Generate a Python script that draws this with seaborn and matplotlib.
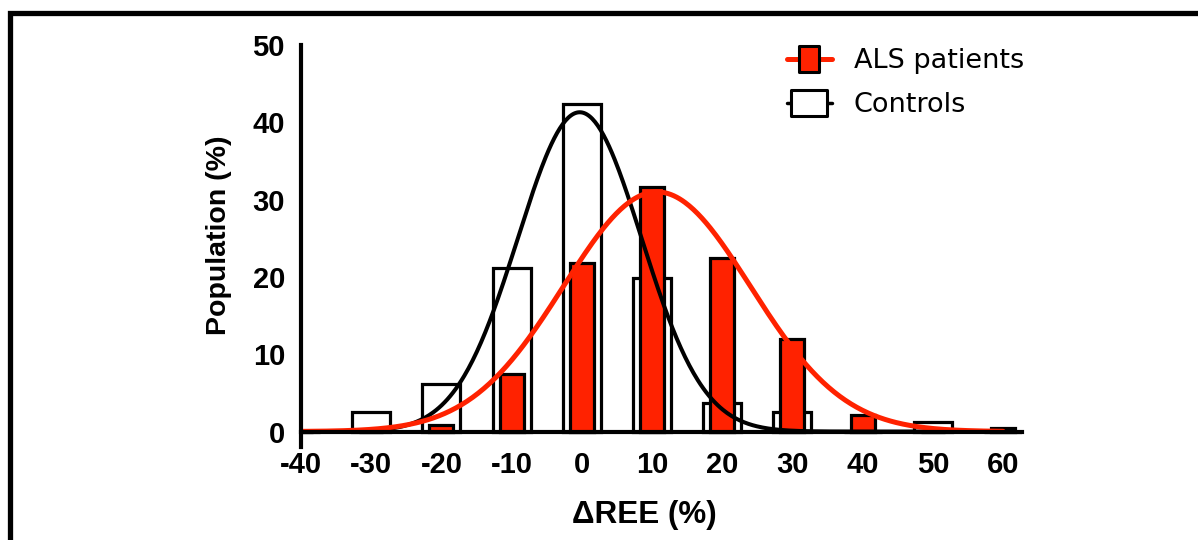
import numpy as np
import seaborn as sns
import matplotlib.pyplot as plt
from matplotlib.lines import Line2D
from matplotlib.patches import Rectangle
from matplotlib.path import Path

# histogram bin centres, delta REE (%)
bins = [-40, -30, -20, -10, 0, 10, 20, 30, 40, 50, 60]
controls = [0, 2.5, 6.2, 21.1, 42.4, 19.9, 3.7, 2.5, 0, 1.2, 0]
als = [0, 0, 0.9, 7.5, 21.8, 31.6, 22.4, 12.0, 2.2, 0, 0.5]

# gaussian fits: (amplitude, mean, sd)
controls_fit = (41.3, -0.3, 8.8)
als_fit = (31.0, 10.7, 13.3)

xticks = [-40, -30, -20, -10, 0, 10, 20, 30, 40, 50, 60]
yticks = [0, 10, 20, 30, 40, 50]

RED = '#ff2200'
W, H = 1198, 540


def gauss(x, a, mu, sd):
    return a * np.exp(-(x - mu) ** 2 / (2 * sd ** 2))


def box_marker(w, h):
    verts = [(-w / 2, -h / 2), (w / 2, -h / 2), (w / 2, h / 2), (-w / 2, h / 2), (-w / 2, -h / 2)]
    return Path(verts, [Path.MOVETO, Path.LINETO, Path.LINETO, Path.LINETO, Path.CLOSEPOLY])


sns.set_theme(style='white')
plt.rcParams['font.family'] = ['Liberation Sans', 'DejaVu Sans']

fig = plt.figure(figsize=(W / 100, H / 100), dpi=100)
ax = fig.add_axes([301 / W, 1 - 447 / H, (1022 - 301) / W, (447 - 45) / H])

# bars
sns.barplot(x=bins, y=controls, native_scale=True, width=0.54, color='white', saturation=1,
            edgecolor='black', linewidth=2.3, errorbar=None, ax=ax, zorder=2)
sns.barplot(x=bins, y=als, native_scale=True, width=0.34, color=RED, saturation=1,
            edgecolor='black', linewidth=2.3, errorbar=None, ax=ax, zorder=3)

# fitted curves
xs = np.linspace(-40, 60, 500)
sns.lineplot(x=xs, y=gauss(xs, *controls_fit), color='black', linewidth=2.9, ax=ax, zorder=4)
sns.lineplot(x=xs, y=gauss(xs, *als_fit), color=RED, linewidth=3.6, ax=ax, zorder=5)

ax.set_xlim(-40, 62.7)
ax.set_ylim(-2, 50)
ax.set_xticks(xticks)
ax.set_yticks(yticks)
ax.set_xticklabels([str(t) for t in xticks])
ax.set_yticklabels([str(t) for t in yticks])

ax.spines['top'].set_visible(False)
ax.spines['right'].set_visible(False)
ax.spines['bottom'].set_position(('data', 0))
for s in ['left', 'bottom']:
    ax.spines[s].set_linewidth(3)
    ax.spines[s].set_color('black')
    ax.spines[s].set_zorder(6)
ax.tick_params(axis='both', direction='out', length=10, width=2.6, color='black',
               labelsize=21, labelcolor='black')
ax.tick_params(axis='x', pad=4)
ax.tick_params(axis='y', pad=1.5)
for lab in ax.get_xticklabels() + ax.get_yticklabels():
    lab.set_fontweight('bold')
ax.set_xlabel('')
ax.set_ylabel('')

fig.text(644 / W, 1 - 522.5 / H, 'ΔREE (%)', ha='center', va='baseline',
         fontsize=22.6, fontweight='bold', color='black')
fig.text(226 / W, 1 - 235 / H, 'Population (%)', ha='center', va='baseline', rotation=90,
         rotation_mode='anchor', fontsize=20.5, fontweight='bold', color='black')

# legend
handles = [
    Line2D([], [], color=RED, linewidth=3.6, marker=box_marker(0.77, 1.0), markersize=18.7,
           markerfacecolor=RED, markeredgecolor='black', markeredgewidth=2.2),
    Line2D([], [], color='black', linewidth=2.5, marker=box_marker(1.0, 0.72), markersize=26,
           markerfacecolor='white', markeredgecolor='black', markeredgewidth=2.2),
]
leg = ax.legend(handles, ['ALS patients', 'Controls'], loc='upper left',
                bbox_to_anchor=(787 / W, 1 - 48 / H), bbox_transform=fig.transFigure,
                frameon=False, handlelength=1.66, handletextpad=0.8,
                labelspacing=0.68, borderpad=0, borderaxespad=0, labelcolor='black',
                prop={'family': 'DejaVu Sans', 'size': 19.5})

# outer frame of the panel
fig.patches.append(Rectangle((10 / W, -0.2), 2, 1.2 - 13 / H, transform=fig.transFigure,
                             fill=False, edgecolor='black', linewidth=3.8))

fig.savefig('out.png', dpi=100)
